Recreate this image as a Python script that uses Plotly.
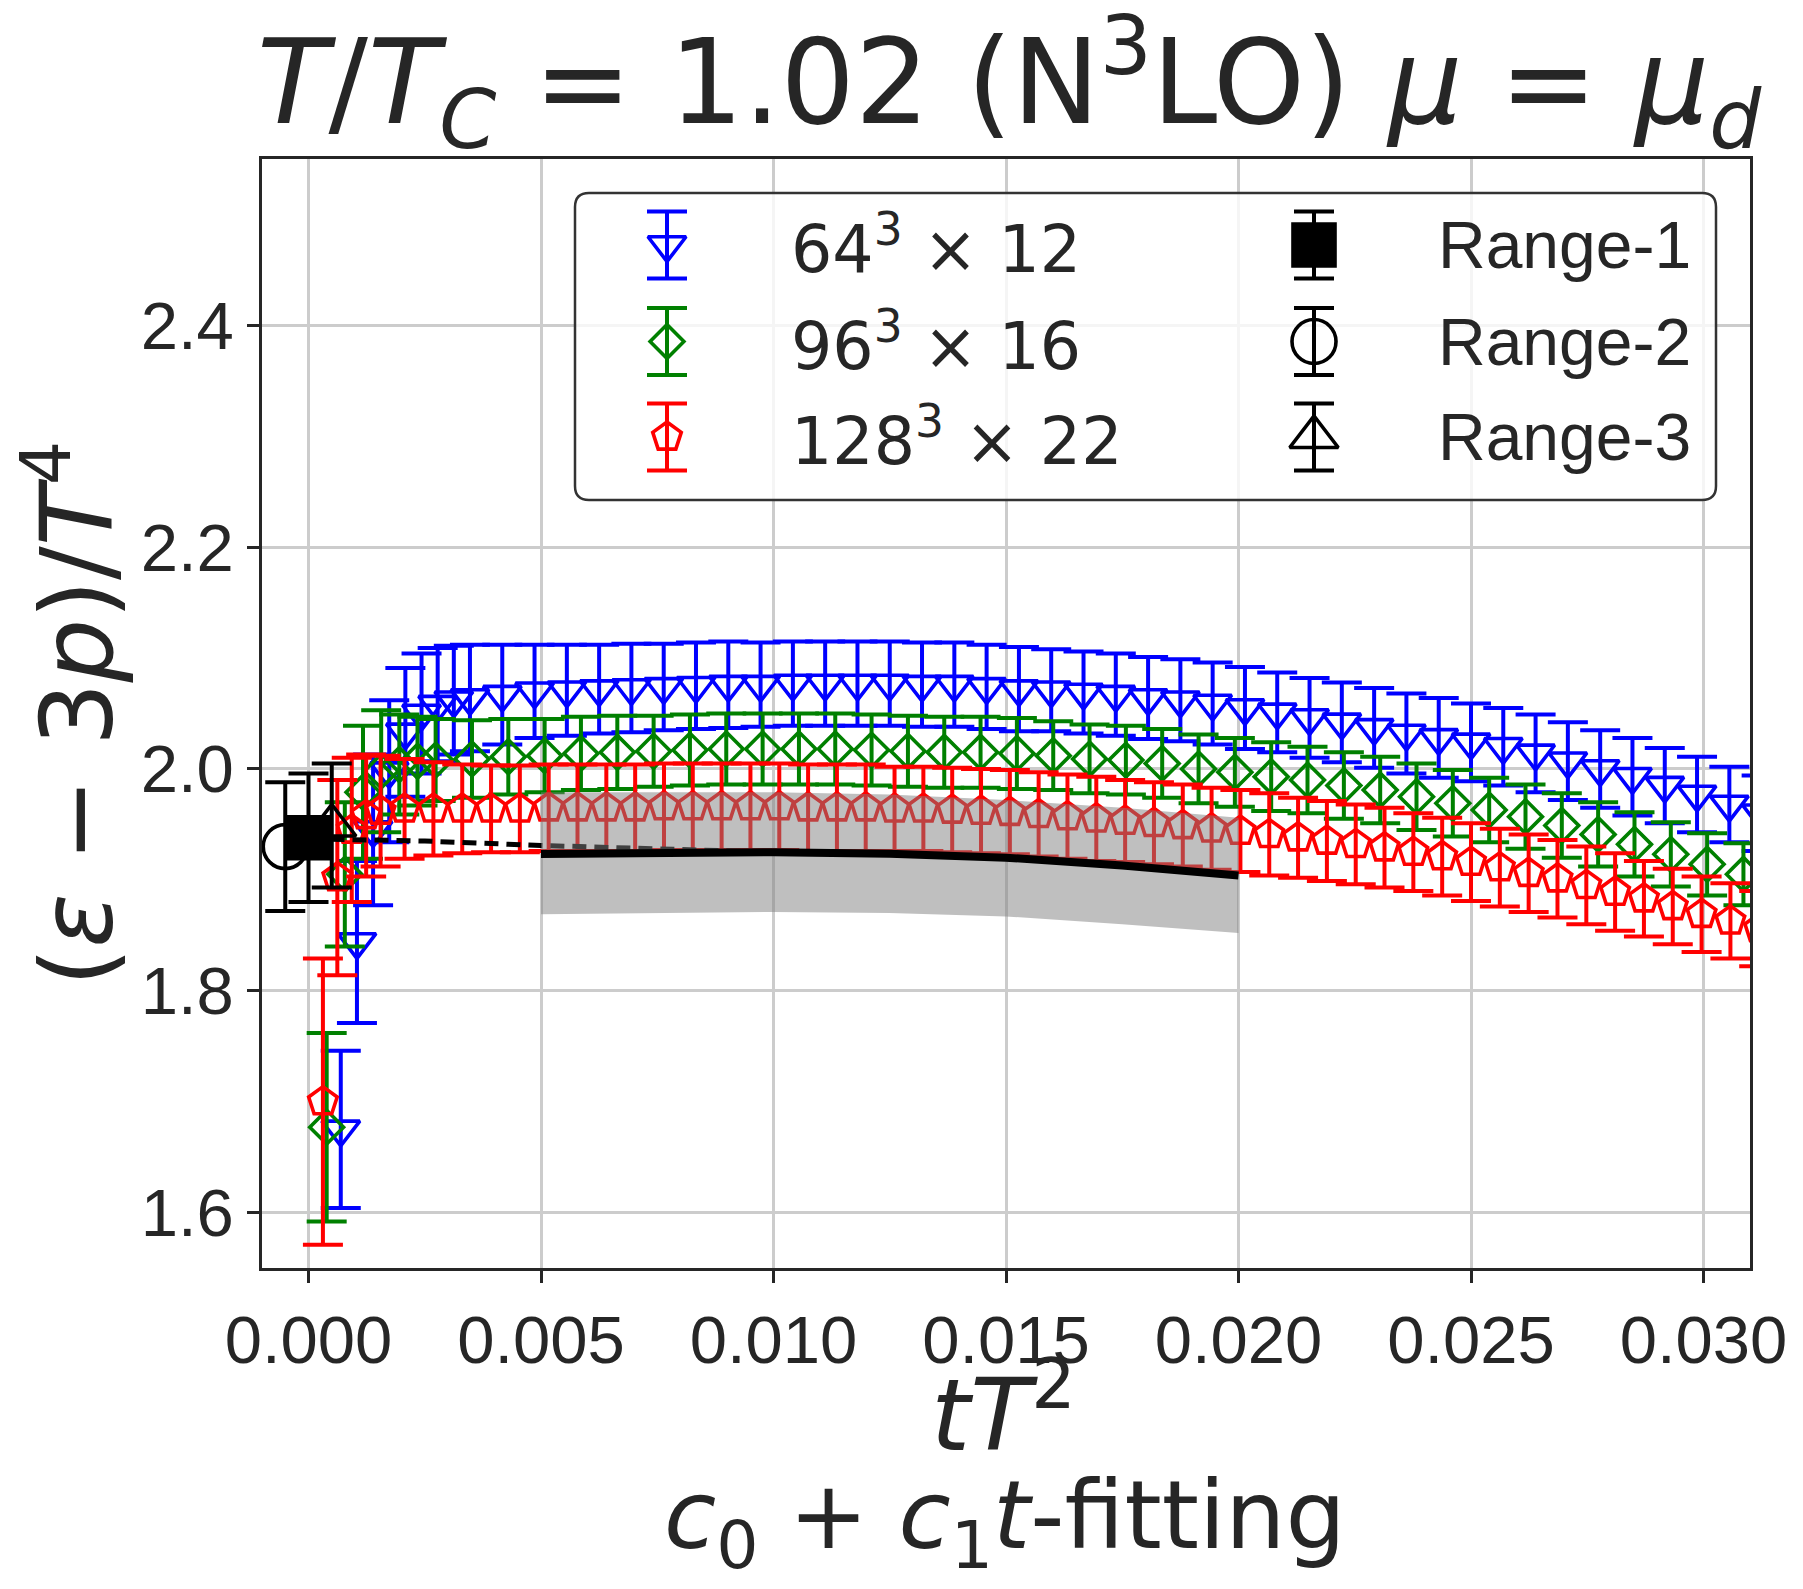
import plotly.graph_objects as go

# ---------------- data ----------------
# 64^3 x 12 (blue)
x_blue = [0.000694, 0.001042, 0.001389, 0.001736, 0.002083, 0.002431, 0.002778, 0.003125, 0.003472,
          0.004167, 0.004861, 0.005556, 0.006250, 0.006944, 0.007639, 0.008333, 0.009028, 0.009722,
          0.010417, 0.011111, 0.011806, 0.012500, 0.013194, 0.013889, 0.014583, 0.015278, 0.015972,
          0.016667, 0.017361, 0.018056, 0.018750, 0.019444, 0.020139, 0.020833, 0.021528, 0.022222,
          0.022917, 0.023611, 0.024306, 0.025000, 0.025694, 0.026389, 0.027083, 0.027778, 0.028472,
          0.029167, 0.029861, 0.030556, 0.031250]
y_blue = [1.675, 1.844, 1.945, 1.998, 2.033, 2.050, 2.058, 2.062, 2.064,
          2.067, 2.070, 2.071, 2.072, 2.073, 2.074, 2.075, 2.076, 2.076,
          2.077, 2.077, 2.077, 2.077, 2.076, 2.076, 2.074, 2.072, 2.071,
          2.069, 2.067, 2.064, 2.062, 2.059, 2.055, 2.051, 2.046, 2.042,
          2.037, 2.032, 2.028, 2.024, 2.020, 2.014, 2.007, 2.000, 1.993,
          1.985, 1.977, 1.968, 1.960]
e_blue = [0.071, 0.073, 0.068, 0.064, 0.058, 0.054, 0.051, 0.049, 0.048,
          0.045, 0.042, 0.041, 0.040, 0.040, 0.039, 0.039, 0.039, 0.038,
          0.038, 0.038, 0.038, 0.038, 0.038, 0.038, 0.038, 0.038, 0.037,
          0.037, 0.037, 0.037, 0.037, 0.037, 0.037, 0.036, 0.036, 0.036,
          0.036, 0.036, 0.036, 0.035, 0.035, 0.035, 0.035, 0.035, 0.035,
          0.034, 0.034, 0.034, 0.034]

# 96^3 x 16 (green)
x_green = [0.000391, 0.000781, 0.001172, 0.001563, 0.001953, 0.002344, 0.002734, 0.003516, 0.004297,
           0.005078, 0.005859, 0.006641, 0.007422, 0.008203, 0.008984, 0.009766, 0.010547, 0.011328,
           0.012109, 0.012891, 0.013672, 0.014453, 0.015234, 0.016016, 0.016797, 0.017578, 0.018359,
           0.019141, 0.019922, 0.020703, 0.021484, 0.022266, 0.023047, 0.023828, 0.024609, 0.025391,
           0.026172, 0.026953, 0.027734, 0.028516, 0.029297, 0.030078, 0.030859]
y_green = [1.677, 1.905, 1.979, 1.998, 2.004, 2.007, 2.008, 2.009, 2.011,
           2.012, 2.014, 2.015, 2.016, 2.017, 2.018, 2.018, 2.018, 2.018,
           2.017, 2.016, 2.015, 2.015, 2.014, 2.012, 2.009, 2.008, 2.005,
           2.000, 1.997, 1.993, 1.990, 1.985, 1.981, 1.975, 1.969, 1.963,
           1.957, 1.949, 1.941, 1.932, 1.923, 1.914, 1.905]
e_green = [0.085, 0.065, 0.060, 0.055, 0.045, 0.040, 0.037, 0.035, 0.034,
           0.033, 0.033, 0.033, 0.032, 0.032, 0.032, 0.032, 0.032, 0.032,
           0.032, 0.032, 0.032, 0.032, 0.032, 0.031, 0.031, 0.031, 0.031,
           0.031, 0.031, 0.031, 0.030, 0.030, 0.030, 0.030, 0.030, 0.029,
           0.029, 0.029, 0.029, 0.029, 0.029, 0.028, 0.028]

# 128^3 x 22 (red)
x_red = [0.000310, 0.000620, 0.000930, 0.001240, 0.001550, 0.002066, 0.002686, 0.003306, 0.003926,
         0.004545, 0.005165, 0.005785, 0.006405, 0.007025, 0.007645, 0.008264, 0.008884, 0.009504,
         0.010124, 0.010744, 0.011364, 0.011983, 0.012603, 0.013223, 0.013843, 0.014463, 0.015083,
         0.015702, 0.016322, 0.016942, 0.017562, 0.018182, 0.018802, 0.019421, 0.020041, 0.020661,
         0.021281, 0.021901, 0.022521, 0.023140, 0.023760, 0.024380, 0.025000, 0.025620, 0.026240,
         0.026860, 0.027480, 0.028099, 0.028719, 0.029339, 0.029959, 0.030579, 0.031198]
y_red = [1.700, 1.902, 1.945, 1.958, 1.962, 1.964, 1.964, 1.964, 1.964,
         1.964, 1.965, 1.965, 1.965, 1.965, 1.966, 1.966, 1.966, 1.966,
         1.966, 1.965, 1.965, 1.965, 1.964, 1.964, 1.963, 1.962, 1.961,
         1.959, 1.957, 1.955, 1.953, 1.951, 1.949, 1.946, 1.944, 1.941,
         1.938, 1.935, 1.932, 1.929, 1.925, 1.921, 1.916, 1.911, 1.906,
         1.901, 1.895, 1.889, 1.883, 1.876, 1.869, 1.863, 1.856]
e_red = [0.129, 0.088, 0.065, 0.055, 0.050, 0.045, 0.042, 0.040, 0.039,
         0.039, 0.039, 0.039, 0.039, 0.039, 0.039, 0.039, 0.039, 0.039,
         0.039, 0.039, 0.039, 0.039, 0.038, 0.038, 0.038, 0.038, 0.038,
         0.038, 0.038, 0.038, 0.037, 0.037, 0.037, 0.037, 0.037, 0.037,
         0.036, 0.036, 0.036, 0.036, 0.035, 0.035, 0.035, 0.035, 0.035,
         0.035, 0.035, 0.035, 0.034, 0.034, 0.034, 0.034, 0.034]

# continuum-extrapolated results (Range-1, Range-2, Range-3)
x_range = [0.0, -0.0005, 0.0005]
y_range = [1.938, 1.930, 1.949]
e_range = [0.058, 0.058, 0.056]

# fit curve and band
fit_x = [0.005, 0.0075, 0.010, 0.0125, 0.015, 0.0175, 0.020]
fit_y = [1.9234, 1.925, 1.925, 1.9235, 1.920, 1.913, 1.904]
band_hi = [1.979, 1.979, 1.979, 1.977, 1.972, 1.965, 1.956]
band_lo = [1.869, 1.870, 1.871, 1.870, 1.867, 1.860, 1.852]
dash_x = [0.0, 0.0025, 0.005, 0.0075, 0.010]
dash_y = [1.937, 1.935, 1.931, 1.928, 1.925]

x_ticks = [0.000, 0.005, 0.010, 0.015, 0.020, 0.025, 0.030]
x_ticklabels = ["0.000", "0.005", "0.010", "0.015", "0.020", "0.025", "0.030"]
y_ticks = [1.6, 1.8, 2.0, 2.2, 2.4]
y_ticklabels = ["1.6", "1.8", "2.0", "2.2", "2.4"]

lattice_labels = ["64<sup>3</sup> × 12", "96<sup>3</sup> × 16", "128<sup>3</sup> × 22"]
range_labels = ["Range-1", "Range-2", "Range-3"]

# ---------------- layout constants (pixels) ----------------
W, H = 1803, 1589
L, R, T, B = 262, 53, 159, 321
PW, PH = W - L - R, H - T - B

def px(X):
    return (X - L) / PW

def py(Y):
    return (H - B - Y) / PH

MATH = "DejaVu Sans"
SANS = "Liberation Sans"
DARK = "#262626"

fig = go.Figure()

ebar = dict(type="data", thickness=4, width=20)
MLW = 3.6

fig.add_trace(go.Scatter(
    x=x_blue, y=y_blue, mode="markers",
    error_y=dict(array=e_blue, color="#0000ff", **ebar),
    marker=dict(symbol="triangle-down-open", size=33, color="#0000ff", line=dict(width=MLW)),
    showlegend=False))
fig.add_trace(go.Scatter(
    x=x_green, y=y_green, mode="markers",
    error_y=dict(array=e_green, color="#008000", **ebar),
    marker=dict(symbol="diamond-open", size=26, color="#008000", line=dict(width=MLW)),
    showlegend=False))
fig.add_trace(go.Scatter(
    x=x_red, y=y_red, mode="markers",
    error_y=dict(array=e_red, color="#ff0000", **ebar),
    marker=dict(symbol="pentagon-open", size=30, color="#ff0000", line=dict(width=MLW)),
    showlegend=False))

# dashed extrapolation line (under the band)
fig.add_trace(go.Scatter(
    x=dash_x, y=dash_y, mode="lines",
    line=dict(color="black", width=5, dash="14px,8px"), showlegend=False))

# band
fig.add_trace(go.Scatter(
    x=fit_x + fit_x[::-1], y=band_hi + band_lo[::-1], mode="lines", fill="toself",
    fillcolor="rgba(128,128,128,0.5)", line=dict(width=0, color="rgba(0,0,0,0)"),
    showlegend=False))
fig.add_trace(go.Scatter(
    x=fit_x, y=fit_y, mode="lines", line=dict(color="black", width=8), showlegend=False))

# range points
range_symbols = ["square", "circle-open", "triangle-up-open"]
range_sizes = [42, 44, 42]
for i in range(3):
    fig.add_trace(go.Scatter(
        x=[x_range[i]], y=[y_range[i]], mode="markers",
        error_y=dict(array=[e_range[i]], color="black", **ebar),
        marker=dict(symbol=range_symbols[i], size=range_sizes[i], color="black", line=dict(width=MLW, color="black")),
        showlegend=False))

# ---------------- custom legend (in a pixel-scaled overlay axis) ----------------
LBX0, LBX1, LBY0, LBY1 = 575, 1716, 193, 500
PAD = 10
COL_MARK = [667, 1314]
COL_TEXT = [789, 1436]
ROWS = [245, 341.5, 437]
LEG_ERR = 33.5

leg_symbols = ["triangle-down-open", "diamond-open", "pentagon-open"]
leg_sizes = [33, 26, 30]
leg_colors = ["#0000ff", "#008000", "#ff0000"]
for i in range(3):
    fig.add_trace(go.Scatter(
        x=[COL_MARK[0]], y=[ROWS[i]], xaxis="x2", yaxis="y2", mode="markers",
        error_y=dict(array=[LEG_ERR], color=leg_colors[i], **ebar),
        marker=dict(symbol=leg_symbols[i], size=leg_sizes[i], color=leg_colors[i], line=dict(width=MLW)),
        showlegend=False))
    fig.add_trace(go.Scatter(
        x=[COL_MARK[1]], y=[ROWS[i]], xaxis="x2", yaxis="y2", mode="markers",
        error_y=dict(array=[LEG_ERR], color="black", **ebar),
        marker=dict(symbol=range_symbols[i], size=range_sizes[i], color="black", line=dict(width=MLW, color="black")),
        showlegend=False))

annotations = []
for i in range(3):
    annotations.append(dict(x=COL_TEXT[0], y=ROWS[i], xref="x2", yref="y2", xanchor="left", yanchor="middle",
                            text=lattice_labels[i], showarrow=False, font=dict(family=MATH, size=65, color=DARK)))
    annotations.append(dict(x=COL_TEXT[1], y=ROWS[i], xref="x2", yref="y2", xanchor="left", yanchor="middle",
                            text=range_labels[i], showarrow=False, font=dict(family=SANS, size=66, color=DARK)))

rr = 14
legend_path = (f"M {LBX0+rr},{LBY0} L {LBX1-rr},{LBY0} Q {LBX1},{LBY0} {LBX1},{LBY0+rr} "
               f"L {LBX1},{LBY1-rr} Q {LBX1},{LBY1} {LBX1-rr},{LBY1} L {LBX0+rr},{LBY1} "
               f"Q {LBX0},{LBY1} {LBX0},{LBY1-rr} L {LBX0},{LBY0+rr} Q {LBX0},{LBY0} {LBX0+rr},{LBY0} Z")
shapes = [dict(type="path", path=legend_path, xref="x2", yref="y2", layer="below",
               fillcolor="rgba(255,255,255,0.8)", line=dict(color="#333333", width=2.5))]

# titles
annotations.append(dict(
    x=px(1009), y=py(82), xref="paper", yref="paper", xanchor="center", yanchor="middle",
    text="<i>T</i>/<i>T</i><sub><i>C</i></sub> = 1.02 (N<sup>3</sup>LO) <i>μ</i> = <i>μ</i><sub><i>d</i></sub>",
    showarrow=False, font=dict(family=MATH, size=117, color=DARK)))
annotations.append(dict(
    x=px(70), y=0.5, xref="paper", yref="paper", xanchor="center", yanchor="middle", textangle=-90,
    text="(<i>ε</i> − 3<i>p</i>)/<i>T</i><sup>4</sup>",
    showarrow=False, font=dict(family=MATH, size=100, color=DARK)))
annotations.append(dict(
    x=px(1003), y=py(1408), xref="paper", yref="paper", xanchor="center", yanchor="middle",
    text="<i>tT</i><sup>2</sup>",
    showarrow=False, font=dict(family=MATH, size=100, color=DARK)))
annotations.append(dict(
    x=px(1005), y=py(1522), xref="paper", yref="paper", xanchor="center", yanchor="middle",
    text="<i>c</i><sub>0</sub> + <i>c</i><sub>1</sub><i>t</i>-fitting",
    showarrow=False, font=dict(family=MATH, size=95, color=DARK)))

axis_common = dict(
    showgrid=True, gridcolor="#cccccc", gridwidth=2.5, zeroline=False,
    showline=True, linecolor=DARK, linewidth=2.5, mirror=True,
    ticks="outside", ticklen=12, tickwidth=2.5, tickcolor=DARK,
    tickfont=dict(family=SANS, size=67, color=DARK),
)

fig.update_layout(
    width=W, height=H,
    margin=dict(l=L, r=R, t=T, b=B),
    paper_bgcolor="white", plot_bgcolor="rgba(0,0,0,0)",
    showlegend=False,
    xaxis=dict(range=[-0.001, 0.031], tickvals=x_ticks, ticktext=x_ticklabels, **axis_common),
    yaxis=dict(range=[1.55, 2.55], tickvals=y_ticks, ticktext=y_ticklabels, **axis_common),
    xaxis2=dict(domain=[px(LBX0 - PAD), px(LBX1 + PAD)], range=[LBX0 - PAD, LBX1 + PAD],
                visible=False, anchor="y2", fixedrange=True),
    yaxis2=dict(domain=[py(LBY1 + PAD), py(LBY0 - PAD)], range=[LBY1 + PAD, LBY0 - PAD],
                visible=False, anchor="x2", fixedrange=True),
    annotations=annotations,
    shapes=shapes,
)

fig.write_html("out.html")
